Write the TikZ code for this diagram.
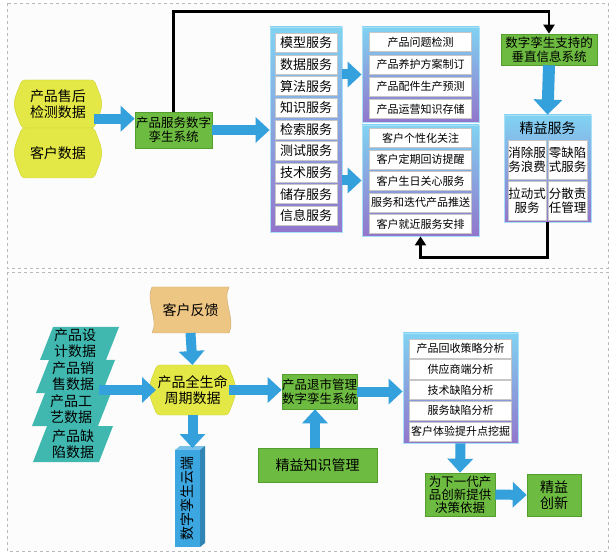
\documentclass[tikz,border=0pt]{standalone}
\usepackage{fontspec}
\setmainfont{Noto Sans CJK SC}
\usetikzlibrary{arrows.meta,calc}
\definecolor{greenc}{RGB}{109,187,64}
\definecolor{greendk}{RGB}{84,158,48}
\definecolor{arrowblue}{RGB}{52,160,220}
\definecolor{yel}{RGB}{228,232,70}
\definecolor{yeldk}{RGB}{205,210,50}
\definecolor{tan}{RGB}{238,198,132}
\definecolor{tealc}{RGB}{64,184,176}
\definecolor{barblue}{RGB}{60,166,225}
\definecolor{ctop}{RGB}{128,210,242}
\definecolor{cbot}{RGB}{146,118,204}
\tikzset{
  fs/.style={font=\fontsize{#1}{\the\dimexpr #1pt*115/100\relax}\selectfont},
  fstight/.style={font=\fontsize{#1}{\the\dimexpr #1pt*105/100\relax}\selectfont},
  barrow/.style={draw=arrowblue, line width=10pt, -{Triangle[length=14pt,width=25pt]}},
  blk/.style={draw=black, line width=2.6pt, -{Triangle[length=9pt,width=11pt]}},
  gbox/.style={draw=greendk, fill=greenc, inner sep=0pt, align=center, line width=0.6pt},
  cont/.style={draw=ctop!70!white, top color=ctop, bottom color=cbot, inner sep=0pt, line width=0.8pt},
  item/.style={draw=gray!45, fill=white, inner sep=0pt, minimum height=19pt, line width=0.5pt},
  txt/.style={inner sep=0pt, align=center},
  panel/.style={draw=gray!55, dashed, fill=gray!2, line width=0.6pt}
}
\begin{document}
\begin{tikzpicture}[x=1pt,y=-1pt]
\useasboundingbox (0,0) rectangle (616,553);
% panels
\draw[panel] (7,3) rectangle (608,268);
\draw[panel] (7,272) rectangle (608,551);

% ===== TOP PANEL =====
% yellow shapes
\fill[yel, draw=yeldk, line width=0.4pt, rounded corners=3pt] (22,80) .. controls (12,104) .. (22,128) -- (94,128) .. controls (104,104) .. (94,80) -- cycle;
\fill[yel, draw=yeldk, line width=0.4pt, rounded corners=3pt] (22,128) .. controls (12,153) .. (22,178) -- (94,178) .. controls (104,153) .. (94,128) -- cycle;
\node[txt, fs=14] (yA) at (58,104) {产品售后\\检测数据};
\node[txt, fs=14] (yB) at (58,153) {客户数据};

\node[gbox, fs=12.5, minimum width=77pt, minimum height=36pt] (psys) at (173.5,130) {产品服务数字\\孪生系统};

% service column
\node[cont, minimum width=72pt, minimum height=205pt] (svc) at (306,129.5) {};
\foreach \t [count=\i from 0] in {模型服务,数据服务,算法服务,知识服务,检索服务,测试服务,技术服务,储存服务,信息服务}
  \node[item, fs=13, minimum width=62pt] (s\i) at (306,43+21.6*\i) {\t};

% group 1
\node[cont, minimum width=117pt, minimum height=95pt] (g1) at (420.5,74.5) {};
\foreach \t [count=\i from 0] in {产品问题检测,产品养护方案制订,产品配件生产预测,产品运营知识存储}
  \node[item, fs=11, minimum width=102pt] (ga\i) at (420.5,42+22.3*\i) {\t};

% group 2
\node[cont, minimum width=117pt, minimum height=111pt] (g2) at (420.5,180.5) {};
\foreach \t [count=\i from 0] in {客户个性化关注,客户定期回访提醒,客户生日关心服务,服务和迭代产品推送,客户就近服务安排}
  \node[item, fs=11, minimum width=102pt] (gb\i) at (420.5,138+21.5*\i) {\t};

% vertical info system
\node[gbox, fs=12.5, minimum width=96pt, minimum height=31pt] (vsys) at (549,49.5) {数字孪生支持的\\垂直信息系统};

% lean services
\node[cont, minimum width=87pt, minimum height=107pt] (lean) at (547.5,168.5) {};
\node[txt, fs=14] (leant) at (547.5,128.5) {精益服务};
\node[item, fs=12.5, minimum width=38pt, minimum height=39pt, align=center] (c1) at (527,159.5) {消除服\\务浪费};
\node[item, fs=12.5, minimum width=39pt, minimum height=39pt, align=center] (c2) at (567.5,159.5) {零缺陷\\式服务};
\node[item, fs=12.5, minimum width=38pt, minimum height=39pt, align=center] (c3) at (527,200.5) {拉动式\\服务};
\node[item, fs=12.5, minimum width=39pt, minimum height=39pt, align=center] (c4) at (567.5,200.5) {分散责\\任管理};

% top connectors
\draw[barrow] (yA.south -| 94,0) -- (yA.south -| psys.west);
\draw[barrow] (psys.east) -- (psys.east -| svc.west);
\draw[barrow] (svc.east |- g1.center) -- (g1.west);
\draw[barrow] (svc.east |- g2.center) -- (g2.west);
\draw[barrow, line width=12pt, -{Triangle[length=15pt,width=28pt]}] (vsys.south) -- (lean.north);
\draw[blk] (psys.north) -- ++(0,-100) -| (vsys.north);
\draw[blk] (lean.south) -- ++(0,35) -| (g2.south);

% ===== BOTTOM PANEL =====
% customer feedback
\fill[tan, draw=tan!85!black, line width=0.4pt] (152,287) .. controls (145,300) and (159,320) .. (152,333) -- (229,333) .. controls (236,320) and (222,300) .. (229,287) -- cycle;
\node[txt, fs=14] (fb) at (190.5,310) {客户反馈};

% lifecycle data
\fill[yel, draw=yeldk, line width=0.4pt, rounded corners=3pt] (157,365) .. controls (147,390) .. (157,415) -- (228,415) .. controls (238,390) .. (228,365) -- cycle;
\node[txt, fs=14] (lc) at (192.5,390) {产品全生命\\周期数据};

% parallelograms
\fill[tealc] (53,327) -- (119,327) -- (106,360) -- (40,360) -- cycle;
\fill[tealc] (49,360) -- (115,360) -- (102,393) -- (36,393) -- cycle;
\fill[tealc] (45,393) -- (111,393) -- (98,426) -- (32,426) -- cycle;
\fill[tealc] (47,426) -- (113,426) -- (99,462) -- (33,462) -- cycle;
\node[txt, fs=14, minimum width=52pt] (p1) at (75,343.5) {产品设\\计数据};
\node[txt, fs=14, minimum width=52pt] (p2) at (73,376.5) {产品销\\售数据};
\node[txt, fs=14, minimum width=52pt] (p3) at (71,409.5) {产品工\\艺数据};
\node[txt, fs=14, minimum width=52pt] (p4) at (73,444) {产品缺\\陷数据};

% cloud bar
\fill[barblue!70!white] (175,450) -- (180,446) -- (205,446) -- (200,450) -- cycle;
\fill[barblue!80!black] (200,450) -- (205,446) -- (205,543) -- (200,547) -- cycle;
\fill[barblue] (175,450) rectangle (200,547);
\node[txt, fs=14, rotate=90, minimum width=97pt, minimum height=25pt] (cloud) at (187.5,498.5) {数字孪生云端};

% retirement system
\node[gbox, fs=12.5, minimum width=75pt, minimum height=35pt] (rsys) at (319.5,391.5) {产品退市管理\\数字孪生系统};
\node[gbox, fs=14, minimum width=119pt, minimum height=34pt] (km) at (317.5,465) {精益知识管理};

% analysis
\node[cont, minimum width=115pt, minimum height=110pt] (ana) at (460.5,388) {};
\foreach \t [count=\i from 0] in {产品回收策略分析,供应商端分析,技术缺陷分析,服务缺陷分析,客户体验提升点挖掘}
  \node[item, fs=11, minimum width=102pt] (an\i) at (460.5,348.5+20.75*\i) {\t};

\node[gbox, fstight=12.5, minimum width=70pt, minimum height=43pt] (dec) at (460,494.5) {为下一代产\\品创新提供\\决策依据};
\node[gbox, fs=14, minimum width=54pt, minimum height=42pt] (inn) at (554,495) {精益\\创新};

% bottom connectors
\draw[barrow] (fb.south |- 0,333) -- (lc.north |- 0,365);
\draw[barrow] (lc.west -| p2.east) -- (lc.west -| 156,0);
\draw[barrow] (lc.south |- 0,415) -- (lc.south |- 0,448);
\draw[barrow] (lc.east -| 229,0) -- (lc.east -| rsys.west);
\draw[barrow] (km.north -| 315,0) -- (rsys.south -| 315,0);
\draw[barrow] (rsys.east) -- (rsys.east -| ana.west);
\draw[barrow] (ana.south) -- (dec.north);
\draw[barrow] (dec.east) -- (inn.west);
\end{tikzpicture}
\end{document}
